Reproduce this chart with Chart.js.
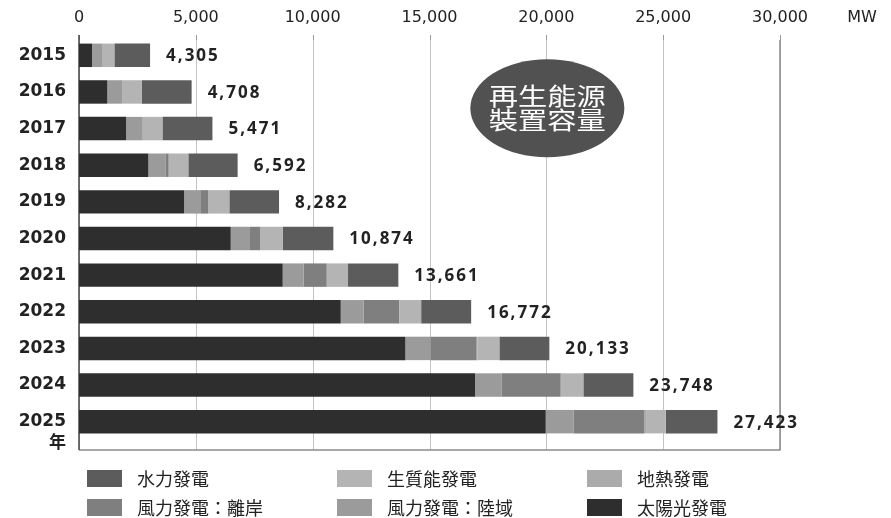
<!DOCTYPE html>
<html>
<head>
<meta charset="utf-8">
<script src="https://cdn.jsdelivr.net/npm/chart.js@4.4.1/dist/chart.umd.min.js"></script>
<style>
  html, body { margin: 0; padding: 0; background: #fff; }
  #wrap { width: 891px; height: 518px; }
</style>
</head>
<body>
<div id="wrap"><canvas id="myChart" width="891" height="518"></canvas></div>
<script>
const years = ['2015', '2016', '2017', '2018', '2019', '2020', '2021', '2022', '2023', '2024', '2025'];
const solar = [556, 1212, 2012, 2967, 4494, 6493, 8718, 11201, 13966, 16949, 19974];
const windOnshore = [458, 655, 715, 728, 728, 826, 899, 972, 1070, 1126, 1185];
const windOffshore = [0, 0, 0, 141, 313, 441, 984, 1528, 1982, 2538, 3039];
const geothermal = [0, 0, 0, 0, 0, 0, 5, 10, 40, 50, 70];
const biomass = [500, 813, 843, 843, 899, 955, 907, 932, 932, 922, 842];
const hydro = [1528, 2140, 2140, 2110, 2127, 2170, 2153, 2140, 2140, 2140, 2213];
const totals = [4305, 4708, 5471, 6592, 8282, 10874, 13661, 16772, 20133, 23748, 27423];
const xTicks = [0, 5000, 10000, 15000, 20000, 25000, 30000];

const seriesNames = ['太陽光發電', '風力發電：陸域', '風力發電：離岸', '地熱發電', '生質能發電', '水力發電'];
const seriesData = [solar, windOnshore, windOffshore, geothermal, biomass, hydro];
const seriesColors = ['#2e2e2e', '#9b9b9b', '#7f7f7f', '#ababab', '#b4b4b4', '#5c5c5c'];

document.addEventListener("DOMContentLoaded", function () {
    const ctx = document.getElementById('myChart').getContext('2d');

    // gridlines, frame and top tick marks
    const frame = {
        id: 'frame',
        beforeDatasetsDraw(chart) {
            const { ctx, chartArea, scales: { x } } = chart;
            const bottom = chartArea.bottom + 10;
            ctx.save();
            ctx.lineWidth = 1;
            xTicks.forEach(v => {
                const px = Math.round(x.getPixelForValue(v)) + 0.5;
                ctx.strokeStyle = '#c4c4c4';
                ctx.beginPath();
                ctx.moveTo(px, chartArea.top + 3);
                ctx.lineTo(px, bottom);
                ctx.stroke();
                ctx.strokeStyle = '#9a9a9a';
                ctx.beginPath();
                ctx.moveTo(px, chartArea.top - 2);
                ctx.lineTo(px, chartArea.top + 3);
                ctx.stroke();
            });
            // bottom and right border
            ctx.strokeStyle = '#8a8a8a';
            ctx.lineWidth = 1.5;
            ctx.beginPath();
            ctx.moveTo(x.getPixelForValue(0), bottom);
            ctx.lineTo(x.getPixelForValue(30000), bottom);
            ctx.lineTo(x.getPixelForValue(30000), chartArea.top + 3);
            ctx.stroke();
            // left axis
            ctx.strokeStyle = '#444';
            ctx.beginPath();
            ctx.moveTo(x.getPixelForValue(0), chartArea.top - 2);
            ctx.lineTo(x.getPixelForValue(0), bottom);
            ctx.stroke();
            ctx.restore();
        },
        afterDatasetsDraw(chart) {
            const { ctx, chartArea, scales: { x, y } } = chart;
            ctx.save();
            // totals at bar ends
            ctx.font = 'bold 17px "Open Sans"';
            ctx.letterSpacing = '2px';
            ctx.fillStyle = '#222';
            ctx.textAlign = 'left';
            ctx.textBaseline = 'middle';
            years.forEach((yr, i) => {
                let end = 0;
                seriesData.forEach(arr => { end += arr[i]; });
                ctx.fillText(totals[i].toLocaleString('en-US'), x.getPixelForValue(end) + 16, y.getPixelForValue(i) + 1);
            });
            ctx.letterSpacing = '0px';

            // unit labels
            ctx.font = '16px "DejaVu Sans"';
            ctx.textAlign = 'center';
            ctx.fillText('MW', chartArea.right + 82, 18);
            ctx.font = 'bold 17px "Noto Sans CJK TC"';
            ctx.textAlign = 'right';
            ctx.fillText('年', 66, chartArea.bottom + 2);

            // bubble
            const cx = x.getPixelForValue(20000) + 1;
            const cy = (y.getPixelForValue(1) + y.getPixelForValue(2)) / 2 - 2;
            ctx.fillStyle = '#515151';
            ctx.beginPath();
            ctx.ellipse(cx, cy, 77, 49, 0, 0, Math.PI * 2);
            ctx.fill();
            ctx.fillStyle = '#fff';
            ctx.textAlign = 'center';
            ctx.font = '400 24px "Noto Sans CJK TC"';
            ctx.save();
            ctx.translate(cx, cy);
            ctx.scale(1.22, 1);
            ctx.fillText('再生能源', 0, -12);
            ctx.fillText('裝置容量', 0, 12);
            ctx.restore();

            // legend, reverse order, 3 columns
            ctx.font = '18px "Noto Sans CJK TC"';
            ctx.textAlign = 'left';
            for (let k = 0; k < seriesNames.length; k++) {
                const s = seriesNames.length - 1 - k;
                const col = k % 3, row = Math.floor(k / 3);
                const lx = 87 + col * 250;
                const ly = 478 + row * 29;
                ctx.fillStyle = seriesColors[s];
                ctx.fillRect(lx, ly - 8, 35, 17);
                ctx.fillStyle = '#222';
                ctx.fillText(seriesNames[s], lx + 50, ly + 1);
            }
            ctx.restore();
        }
    };

    new Chart(ctx, {
        type: 'bar',
        data: {
            labels: years,
            datasets: seriesNames.map((name, i) => ({
                label: name,
                data: seriesData[i],
                backgroundColor: seriesColors[i],
                borderWidth: 0,
                barPercentage: 0.64,
                categoryPercentage: 1
            }))
        },
        options: {
            indexAxis: 'y',
            responsive: false,
            animation: false,
            layout: { padding: { left: 0, right: 111, top: 0, bottom: 78 } },
            scales: {
                x: {
                    position: 'top',
                    stacked: true,
                    min: 0,
                    max: 30000,
                    afterFit(s) { s.height = 37; },
                    afterBuildTicks(s) { s.ticks = xTicks.map(v => ({ value: v })); },
                    grid: { display: false, drawTicks: false },
                    border: { display: false },
                    ticks: {
                        padding: 10,
                        color: '#222',
                        font: { family: 'DejaVu Sans', size: 16 },
                        callback: v => v.toLocaleString('en-US')
                    }
                },
                y: {
                    stacked: true,
                    afterFit(s) { s.width = 79; },
                    grid: { display: false, drawTicks: false },
                    border: { display: false },
                    ticks: {
                        padding: 13,
                        color: '#222',
                        font: { family: 'DejaVu Sans', size: 17, weight: 'bold' }
                    }
                }
            },
            plugins: {
                legend: { display: false },
                tooltip: { enabled: false }
            }
        },
        plugins: [frame]
    });
});
</script>
</body>
</html>
